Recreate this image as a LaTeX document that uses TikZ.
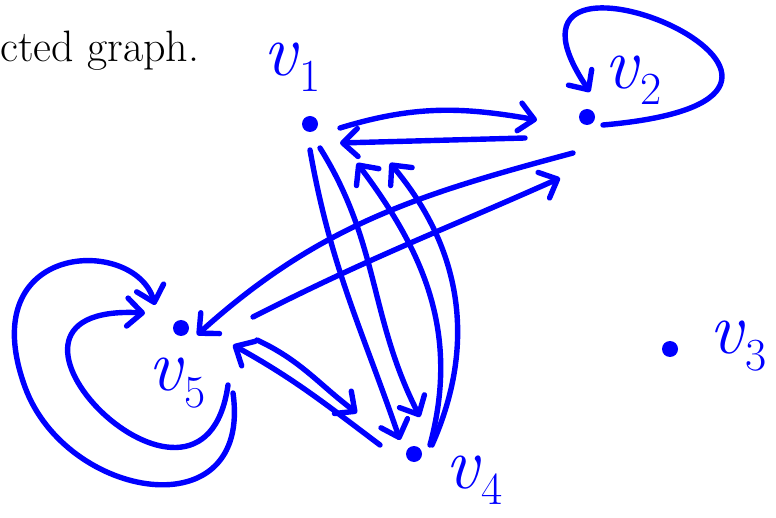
\documentclass[tikz,border=0pt]{standalone}
\usepackage{fontspec}
\newfontfamily\titlefont{Latin Modern Roman}
\newfontfamily\lblfont{Latin Modern Roman}
\usepackage{tikz}
\usetikzlibrary{arrows.meta}
\definecolor{ink}{RGB}{0,0,255}
\newcommand{\vlab}[1]{\textit{v}\raisebox{-0.22em}{\fontsize{46}{46}\selectfont #1}}

\begin{document}
\begin{tikzpicture}[
  x=1pt, y=1pt,
  >={Straight Barb[round, length=15pt, width=28pt]},
  vtx/.style ={circle, fill=ink, inner sep=0pt, minimum size=16pt},
  lbl/.style ={text=ink, inner sep=0pt, font=\lblfont\fontsize{74}{74}\selectfont},
  arr/.style ={->, draw=ink, line width=5.4pt, line cap=round, line join=round}
]
\useasboundingbox (0,0) rectangle (776,517);

% --- heading text, cut at the left edge ---
\node[anchor=base west, inner sep=0pt, font=\titlefont\fontsize{44}{50}\selectfont] (title) at (0,455) {cted graph.};

% --- vertices and their labels ---
\node[vtx] (v1) at (310,393) {};
\node[vtx] (v2) at (587,400) {};
\node[vtx] (v3) at (670,168) {};
\node[vtx] (v4) at (414,63)  {};
\node[vtx] (v5) at (181,189) {};

\node[lbl] (l1) at (292,450) {\vlab{1}};
\node[lbl] (l2) at (633,437) {\vlab{2}};
\node[lbl] (l3) at (738,171) {\vlab{3}};
\node[lbl] (l4) at (474,37)  {\vlab{4}};
\node[lbl] (l5) at (177,134) {\vlab{5}};

% --- v1 <-> v2 ---
\draw[arr] ([shift={(30,-4)}]v1.center) to[out=17, in=170] ([shift={(-50,-3)}]v2.center);
\draw[arr] ([shift={(-62,-21)}]v2.center) -- ([shift={(30,-19)}]v1.center);

% --- loop on v2 ---
\draw[arr] ([shift={(16,-8)}]v2.center)
  to[out=5, in=124, out distance=330pt, in distance=230pt] ([shift={(3,25)}]v2.center);

% --- v2 <-> v5 ---
\draw[arr] ([shift={(-14,-36)}]v2.center) to[out=195, in=42] ([shift={(16,-7)}]v5.center);
\draw[arr] ([shift={(72,11)}]v5.center) to[out=27, in=204] ([shift={(-27,-61)}]v2.center);

% --- two loops on v5 ---
\draw[arr] ([shift={(47,-57)}]v5.center)
  to[out=262, in=177, out distance=180pt, in distance=200pt] ([shift={(-36,15)}]v5.center);
\draw[arr] ([shift={(52,-65)}]v5.center)
  to[out=278, in=-70, out distance=140pt, in distance=120pt] ([shift={(-156,-59)}]v5.center)
  to[out=110, in=106, out distance=156pt, in distance=72pt] ([shift={(-26,23)}]v5.center);

% --- v5 <-> v4 ---
\draw[arr] ([shift={(76,-12)}]v5.center) to[out=-25, in=143] ([shift={(-57,41)}]v4.center);
\draw[arr] ([shift={(-34,9)}]v4.center) to[out=143, in=-29] ([shift={(52,-17)}]v5.center);

% --- v1 <-> v4 ---
\draw[arr] ([shift={(0,-26)}]v1.center) to[out=-80, in=109] ([shift={(-14,14)}]v4.center);
\draw[arr] ([shift={(10,-24)}]v1.center) to[out=-58, in=117] ([shift={(6,37)}]v4.center);
\draw[arr] ([shift={(16,9)}]v4.center) to[out=75, in=-53] ([shift={(47,-39)}]v1.center);
\draw[arr] ([shift={(18,9)}]v4.center) to[out=66, in=-50] ([shift={(80,-39)}]v1.center);

\end{tikzpicture}
\end{document}
